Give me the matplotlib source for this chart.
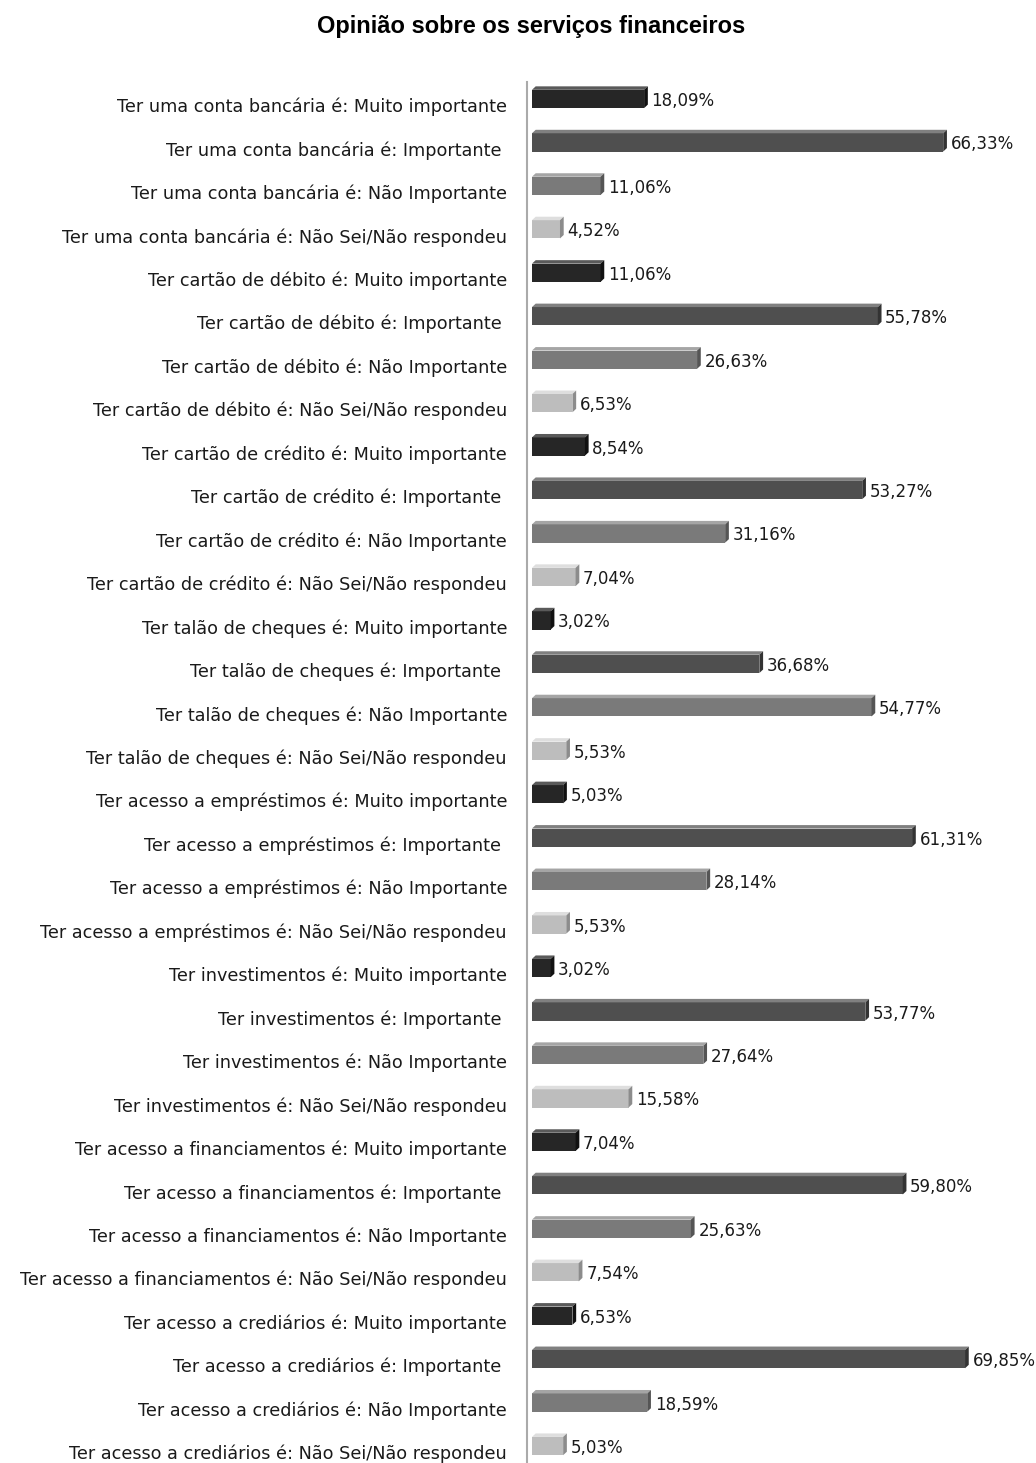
import matplotlib
matplotlib.use("Agg")
import matplotlib.pyplot as plt
from matplotlib.patches import Polygon
import matplotlib.transforms as mtransforms

services = ["Ter uma conta bancária", "Ter cartão de débito", "Ter cartão de crédito",
            "Ter talão de cheques", "Ter acesso a empréstimos", "Ter investimentos",
            "Ter acesso a financiamentos", "Ter acesso a crediários"]
answers = ["Muito importante", "Importante ", "Não Importante", "Não Sei/Não respondeu"]

muito_importante = [18.09, 11.06, 8.54, 3.02, 5.03, 3.02, 7.04, 6.53]
importante = [66.33, 55.78, 53.27, 36.68, 61.31, 53.77, 59.80, 69.85]
nao_importante = [11.06, 26.63, 31.16, 54.77, 28.14, 27.64, 25.63, 18.59]
nao_sei = [4.52, 6.53, 7.04, 5.53, 5.53, 15.58, 7.54, 5.03]

front_colors = ["#262626", "#4f4f4f", "#7a7a7a", "#bdbdbd"]
side_colors = ["#111111", "#333333", "#555555", "#8c8c8c"]
top_colors = ["#5a5a5a", "#808080", "#a5a5a5", "#dedede"]

labels, values, cidx = [], [], []
for i, s in enumerate(services):
    for j, (a, v) in enumerate(zip(answers, [muito_importante[i], importante[i], nao_importante[i], nao_sei[i]])):
        labels.append(f"{s} é: {a}")
        values.append(v)
        cidx.append(j)

W, H = 1036, 1463
fig = plt.figure(figsize=(W / 100, H / 100), dpi=100)
ax = fig.add_axes([527 / W, 0, 1 - 527 / W, 1 - 82 / H])

n = len(values)
ax.set_xlim(-0.8, (1036 - 527) / 6.2 - 0.8)
ax.set_ylim(n - 1 + 0.39, -0.39)

bh = 0.42
dx = 0.6
dy = 0.08
ys = list(range(n))
ax.barh(ys, values, height=bh, color=[front_colors[c] for c in cidx], edgecolor="none", zorder=2)
val_tr = ax.transData + mtransforms.ScaledTranslation(0, -0.02, fig.dpi_scale_trans)
for y, v, c in zip(ys, values, cidx):
    top = y - bh / 2
    bot = y + bh / 2
    # top face
    ax.add_patch(Polygon([(0, top), (v, top), (v + dx, top - dy), (dx, top - dy)],
                         closed=True, facecolor=top_colors[c], edgecolor="none", zorder=2))
    # side face
    ax.add_patch(Polygon([(v, top), (v + dx, top - dy), (v + dx, bot - dy), (v, bot)],
                         closed=True, facecolor=side_colors[c], edgecolor="none", zorder=2))
    ax.text(v + dx + 0.6, y, f"{v:.2f}%".replace(".", ","), va="center", ha="left",
            fontsize=12, color="#1a1a1a", family="DejaVu Sans", transform=val_tr)

lab_tr = ax.get_yaxis_transform() + mtransforms.ScaledTranslation(0, -0.08, fig.dpi_scale_trans)
for y, lab in zip(ys, labels):
    ax.text(-20 / (W - 527), y, lab, transform=lab_tr, ha="right", va="center",
            fontsize=12.7, color="#1a1a1a", family="DejaVu Sans")

for sp in ["top", "right", "bottom"]:
    ax.spines[sp].set_visible(False)
ax.spines["left"].set_color("#aaaaaa")
ax.spines["left"].set_linewidth(1.5)
ax.set_xticks([])
ax.set_yticks([])

fig.text(531 / W, 1 - 26 / H, "Opinião sobre os serviços financeiros", ha="center", va="center",
         fontsize=17, fontweight="bold", family="Liberation Sans", color="#000000")

fig.savefig("out.png", dpi=100, facecolor="white")
